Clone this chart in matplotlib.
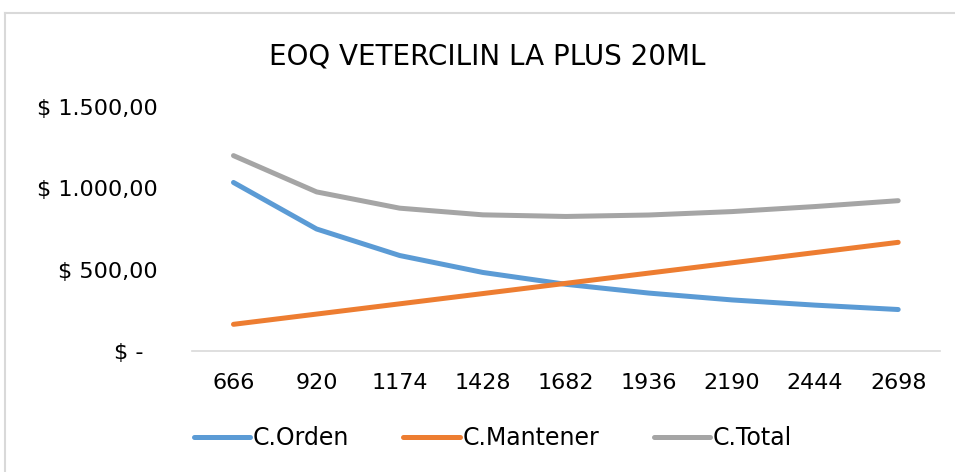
import matplotlib.pyplot as plt
from matplotlib.lines import Line2D
from matplotlib.ticker import FuncFormatter

plt.rcParams['font.family'] = ['DejaVu Sans']

# Data
cantidades = ['666', '920', '1174', '1428', '1682', '1936', '2190', '2444', '2698']
c_orden = [1037, 751, 588, 484, 411, 357, 315, 283, 256]
c_mantener = [165, 228, 291, 354, 417, 480, 543, 606, 669]
c_total = [1202, 979, 879, 838, 828, 837, 858, 889, 925]


def fmt_pesos(v, pos):
    if v == 0:
        return '$ -  '
    s = '{:,.2f}'.format(v)
    s = s.replace(',', 'X').replace('.', ',').replace('X', '.')
    return '$ ' + s


def main():
    fig = plt.figure(figsize=(9.55, 4.72), dpi=100)
    ax = fig.add_axes([0.201, 0.256, 0.783, 0.517])

    # chart border (only top and left edges are inside the picture)
    top = 1 - 13 / 472
    left = 5 / 955
    fig.lines.append(Line2D([left, 1.0], [top, top], transform=fig.transFigure,
                            color='#D9D9D9', lw=1.5))
    fig.lines.append(Line2D([left, left], [0, top], transform=fig.transFigure,
                            color='#D9D9D9', lw=1.5))

    x = range(len(cantidades))
    ax.plot(x, c_orden, color='#5B9BD5', lw=3.6, solid_capstyle='round', label='C.Orden')
    ax.plot(x, c_mantener, color='#ED7D31', lw=3.6, solid_capstyle='round', label='C.Mantener')
    ax.plot(x, c_total, color='#A5A5A5', lw=3.6, solid_capstyle='round', label='C.Total')

    ax.set_xlim(-0.5, len(cantidades) - 0.5)
    ax.set_ylim(0, 1500)
    ax.set_yticks([0, 500, 1000, 1500])
    ax.yaxis.set_major_formatter(FuncFormatter(fmt_pesos))
    ax.set_xticks(list(x))
    ax.set_xticklabels(cantidades)

    for side in ['top', 'right', 'left']:
        ax.spines[side].set_visible(False)
    ax.spines['bottom'].set_color('#D9D9D9')
    ax.spines['bottom'].set_linewidth(1.2)
    ax.tick_params(axis='both', length=0, labelsize=16, colors='#000000')
    ax.tick_params(axis='y', pad=24.5)
    ax.tick_params(axis='x', pad=16)

    fig.text(0.51, 1 - 57 / 472, 'EOQ VETERCILIN LA PLUS 20ML', ha='center', va='center',
             fontsize=20)

    fig.legend(loc='center', bbox_to_anchor=(0.516, 1 - 438 / 472), ncol=3, frameon=False,
               fontsize=17, handlelength=2.4, handletextpad=0.1, columnspacing=2.3)

    fig.savefig('out.png', dpi=100)
    plt.close(fig)


if __name__ == '__main__':
    main()
